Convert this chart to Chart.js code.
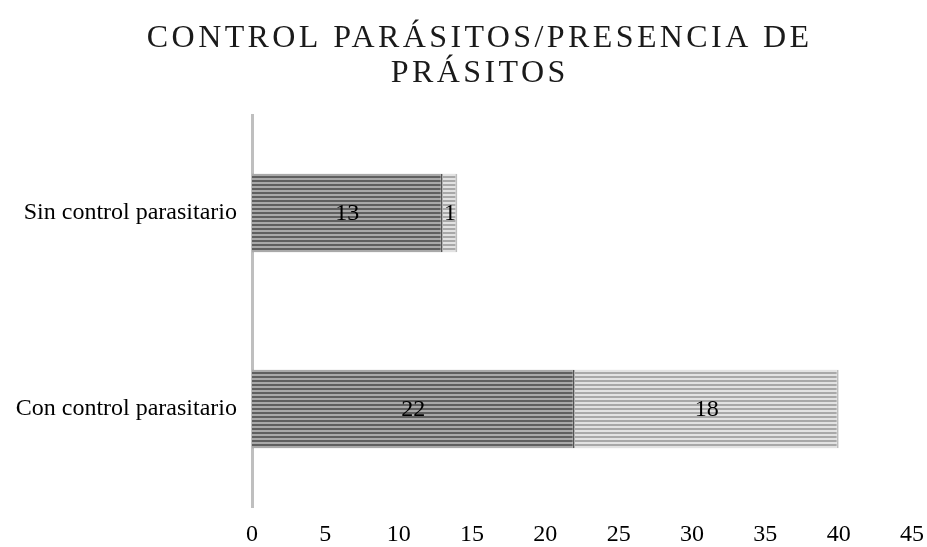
<!DOCTYPE html>
<html>
<head>
<meta charset="utf-8">
<script src="https://cdn.jsdelivr.net/npm/chart.js@4.4.1/dist/chart.umd.min.js"></script>
<style>
html,body{margin:0;padding:0;background:#fff;}
#wrap{width:927px;height:547px;}
</style>
</head>
<body>
<div id="wrap"><canvas id="c" width="927" height="547"></canvas></div>
<script>
const titleLines = ['CONTROL PARÁSITOS/PRESENCIA DE', 'PRÁSITOS'];
const categories = ['Sin control parasitario', 'Con control parasitario'];
const seriesNames = ['Serie 1', 'Serie 2'];
const series1 = [13, 22];
const series2 = [1, 18];
const xTicks = [0, 5, 10, 15, 20, 25, 30, 35, 40, 45];

function stripes(dark, light) {
  const c = document.createElement('canvas');
  c.width = 4; c.height = 4;
  const g = c.getContext('2d');
  g.fillStyle = light; g.fillRect(0, 0, 4, 4);
  g.fillStyle = dark; g.fillRect(0, 0, 4, 2);
  return g.createPattern(c, 'repeat');
}

const FONT = '"Liberation Serif", "Times New Roman", serif';

const titlePlugin = {
  id: 'spacedTitle',
  afterDraw(chart) {
    const ctx = chart.ctx;
    ctx.save();
    ctx.font = '32px ' + FONT;
    ctx.fillStyle = '#1a1a1a';
    ctx.textAlign = 'center';
    ctx.textBaseline = 'alphabetic';
    const sp = 3.4;
    ctx.letterSpacing = sp + 'px';
    ctx.fillText(titleLines[0], 478 + sp / 2, 47);
    ctx.fillText(titleLines[1], 478 + sp / 2, 82);
    ctx.restore();
  }
};

const labelPlugin = {
  id: 'segLabels',
  afterDatasetsDraw(chart) {
    const ctx = chart.ctx;
    ctx.save();
    ctx.font = '24px ' + FONT;
    ctx.fillStyle = '#000';
    ctx.textAlign = 'center';
    ctx.textBaseline = 'middle';
    chart.data.datasets.forEach((ds, di) => {
      const meta = chart.getDatasetMeta(di);
      meta.data.forEach((el, i) => {
        const p = el.getCenterPoint();
        ctx.fillText(String(ds.data[i]), p.x, p.y + 1);
      });
    });
    ctx.restore();
  }
};

new Chart(document.getElementById('c'), {
  type: 'bar',
  data: {
    labels: categories,
    datasets: [
      {
        label: seriesNames[0],
        data: series1,
        backgroundColor: stripes('#5f5f5f', '#a9a9a9'),
        borderColor: '#555555',
        borderWidth: {right: 2, left: 0, top: 0, bottom: 0},
        borderSkipped: false,
        categoryPercentage: 0.8,
        barPercentage: 0.5
      },
      {
        label: seriesNames[1],
        data: series2,
        backgroundColor: stripes('#a8a8a8', '#e2e2e2'),
        borderColor: '#bdbdbd',
        borderWidth: {right: 2, left: 0, top: 0, bottom: 0},
        borderSkipped: false,
        categoryPercentage: 0.8,
        barPercentage: 0.5
      }
    ]
  },
  options: {
    indexAxis: 'y',
    responsive: false,
    animation: false,
    layout: {padding: {top: 115, right: 15, bottom: 0, left: 0}},
    plugins: {
      legend: {display: false},
      title: {display: false},
      tooltip: {enabled: false}
    },
    scales: {
      x: {
        stacked: true,
        min: 0,
        max: 45,
        afterBuildTicks: (s) => { s.ticks = xTicks.map(v => ({value: v})); },
        afterFit: (s) => { s.height = 40; s.paddingRight = 0; s.paddingLeft = 0; },
        grid: {display: false, drawTicks: false},
        border: {display: false},
        ticks: {
          color: '#000',
          font: {family: FONT, size: 24},
          padding: 13,
          maxRotation: 0
        }
      },
      y: {
        stacked: true,
        afterFit: (s) => { s.width = 252; s.paddingTop = 0; s.paddingBottom = 0; },
        grid: {display: false, drawTicks: false},
        border: {display: true, color: '#bfbfbf', width: 3},
        ticks: {
          color: '#000',
          font: {family: FONT, size: 24},
          padding: 15
        }
      }
    }
  },
  plugins: [titlePlugin, labelPlugin]
});
</script>
</body>
</html>
